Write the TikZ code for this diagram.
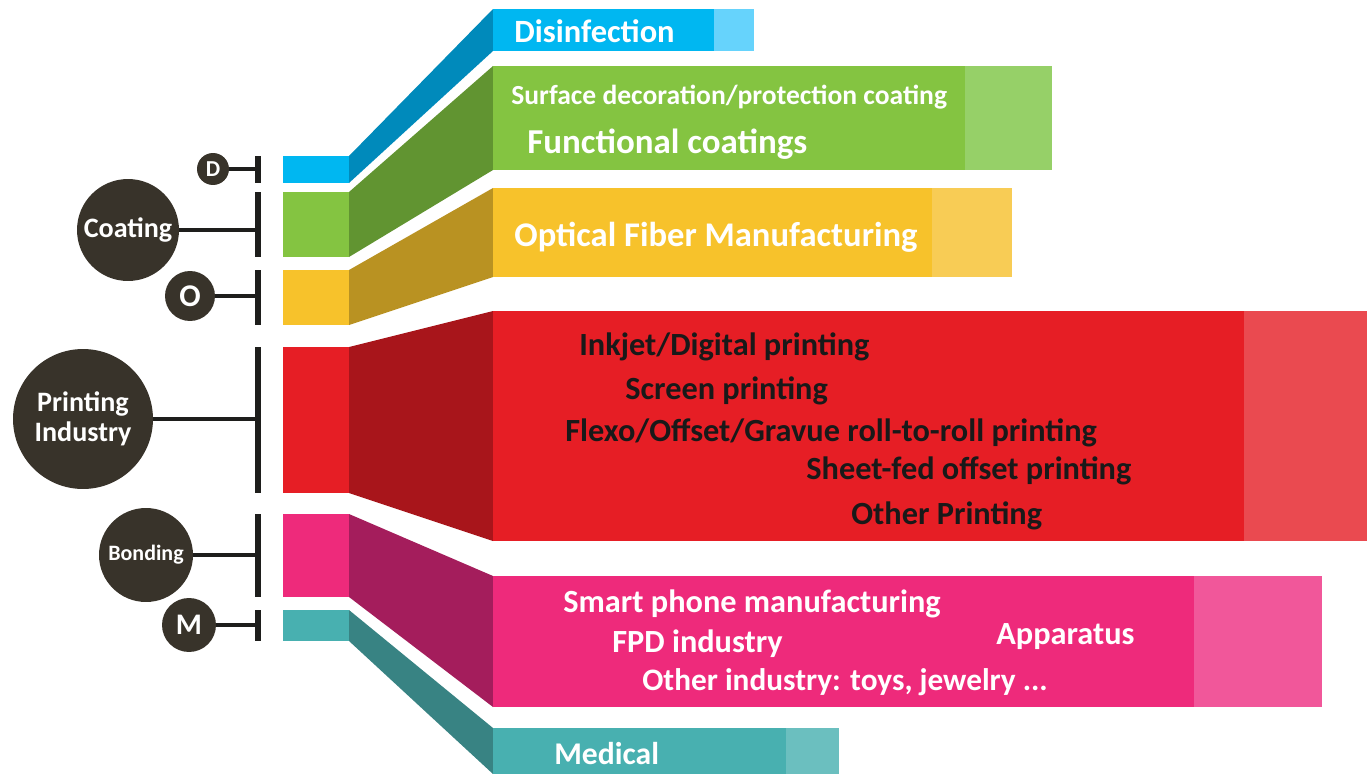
\documentclass[tikz,border=0pt]{standalone}
\usepackage{fontspec}
\setmainfont{Carlito}
\usetikzlibrary{positioning}

\definecolor{darkcirc}{HTML}{38332A}
\definecolor{darkline}{HTML}{1E1E1C}
\definecolor{blueA}{HTML}{00B7F1}\definecolor{blueB}{HTML}{66D3FC}\definecolor{blueC}{HTML}{008ABB}
\definecolor{greenA}{HTML}{84C441}\definecolor{greenB}{HTML}{96D068}\definecolor{greenC}{HTML}{619431}
\definecolor{yellowA}{HTML}{F7C22B}\definecolor{yellowB}{HTML}{F8CC55}\definecolor{yellowC}{HTML}{B99222}
\definecolor{redA}{HTML}{E61E25}\definecolor{redB}{HTML}{EA4A50}\definecolor{redC}{HTML}{A8151B}
\definecolor{pinkA}{HTML}{EE2A7B}\definecolor{pinkB}{HTML}{F1579A}\definecolor{pinkC}{HTML}{A41D5C}
\definecolor{tealA}{HTML}{48B0B0}\definecolor{tealB}{HTML}{6BBFBF}\definecolor{tealC}{HTML}{388383}

% band: colour, small box top/bottom, big box top/bottom, right end, light part start
\newcommand{\band}[7]{%
  \fill[#1A] (283,#2) rectangle (349,#3);
  \fill[#1C] (349,#2) -- (493,#4) -- (493,#5) -- (349,#3) -- cycle;
  \fill[#1A] (493,#4) rectangle (#7,#5);
  \fill[#1B] (#7,#4) rectangle (#6,#5);
}

\begin{document}
\begin{tikzpicture}[
    x=0.02cm, y=-0.02cm,
    circ/.style={circle, fill=darkcirc, text=white, font=\bfseries, inner sep=0pt, align=center},
    vbar/.style={darkline, line width=3.4pt},
    link/.style={darkline, line width=2.8pt},
    wtxt/.style={anchor=west, text=white, font=\bfseries, inner sep=0pt},
    ptxt/.style={wtxt, font=\bfseries\fontsize{18.4}{19}\selectfont},
    ktxt/.style={anchor=west, text=black!90, font=\bfseries\fontsize{18.4}{19}\selectfont, inner sep=0pt}
]
    \useasboundingbox (0,0) rectangle (1367,774);

    % coloured bands
    \band{blue}{156}{183}{9}{51}{754}{714}
    \band{green}{192}{257}{66}{170}{1052}{965}
    \band{yellow}{270}{325}{188}{277}{1012}{932}
    \band{red}{347}{493}{311}{541}{1367}{1244}
    \band{pink}{514}{597}{576}{707}{1322}{1194}
    \band{teal}{610}{641}{728}{774}{839}{786}

    % bars
    \draw[vbar] (258,156) -- (258,183);
    \draw[vbar] (258,192) -- (258,257);
    \draw[vbar] (258,270) -- (258,325);
    \draw[vbar] (258,347) -- (258,493);
    \draw[vbar] (258,514) -- (258,597);
    \draw[vbar] (258,610) -- (258,641);
    \coordinate (dbar) at (258,169);
    \coordinate (cbar) at (258,230);
    \coordinate (obar) at (258,296);
    \coordinate (pbar) at (258,419);
    \coordinate (bbar) at (258,555);
    \coordinate (mbar) at (258,625);

    % circles
    \node[circ, minimum size=0.64cm, font=\bfseries\fontsize{13}{14}\selectfont] (dis) at (213,169) {D};
    \node[circ, minimum size=2.04cm, font=\bfseries\fontsize{16}{17}\selectfont] (coat) at (128,230) {Coating};
    \node[circ, minimum size=1.0cm, font=\bfseries\fontsize{18}{19}\selectfont] (opt) at (190,296) {O};
    \node[circ, minimum size=2.8cm, font=\bfseries\fontsize{16}{17}\selectfont] (print) at (83,419) {Printing\\Industry};
    \node[circ, minimum size=1.88cm, font=\bfseries\fontsize{12.5}{13}\selectfont] (bond) at (146,555) {Bonding};
    \node[circ, minimum size=1.08cm, font=\bfseries\fontsize{17}{18}\selectfont] (med) at (189,625) {M};

    \draw[link] (dis) -- (dbar);
    \draw[link] (coat) -- (cbar);
    \draw[link] (opt) -- (obar);
    \draw[link] (print) -- (pbar);
    \draw[link] (bond) -- (bbar);
    \draw[link] (med) -- (mbar);

    % texts
    \node[wtxt, font=\bfseries\fontsize{18.5}{19}\selectfont] (t1) at (514,31) {Disinfection};
    \node[wtxt, font=\bfseries\fontsize{15.7}{16}\selectfont] (t2) at (511,97) {Surface decoration/protection coating};
    \node[wtxt, font=\bfseries\fontsize{19.9}{20}\selectfont] (t3) at (527,144) {Functional coatings};
    \node[wtxt, font=\bfseries\fontsize{19.7}{20}\selectfont] (t4) at (514,237) {Optical Fiber Manufacturing};
    \node[ktxt] (t5) at (579,347) {Inkjet/Digital printing};
    \node[ktxt] (t6) at (625,391) {Screen printing};
    \node[ktxt] (t7) at (565,433) {Flexo/Offset/Gravue roll-to-roll printing};
    \node[ktxt] (t8) at (806,471) {Sheet-fed offset printing};
    \node[ktxt] (t9) at (851,516) {Other Printing};
    \node[ptxt] (t10) at (563,604) {Smart phone manufacturing};
    \node[ptxt] (t11) at (612,644) {FPD industry};
    \node[ptxt] (t12) at (996,637) {Apparatus};
    \node[ptxt, font=\bfseries\fontsize{17.8}{18}\selectfont] (t13) at (642,682) {Other industry: toys, jewelry ...};
    \node[wtxt, font=\bfseries\fontsize{18}{19}\selectfont] (t14) at (554,754) {Medical};
\end{tikzpicture}
\end{document}
